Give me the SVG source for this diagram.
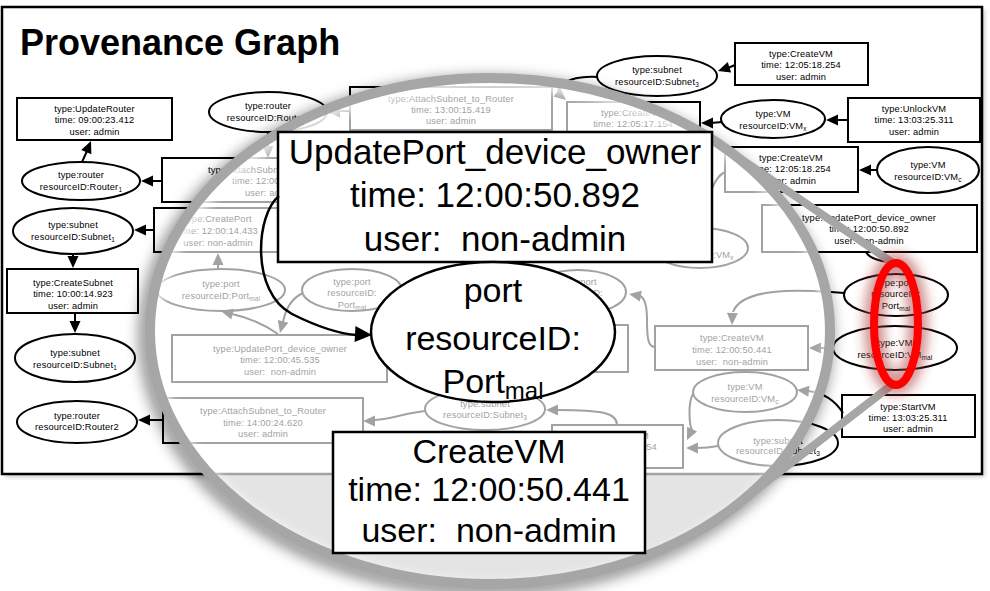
<svg xmlns="http://www.w3.org/2000/svg" width="990" height="591" viewBox="0 0 990 591">
<style>
  .box, .ell { fill: none; stroke: currentColor; stroke-width: 2; }
  .frame { fill: none; stroke: currentColor; stroke-width: 2.5; }
  .t { font-family: "Liberation Sans", Arial, sans-serif; font-size: 9.3px; letter-spacing: .15px; fill: currentColor; text-anchor: middle; }
  .ts { text-anchor: start; }
  .sub { font-size: 6.5px; }
  .edge { fill: none; stroke: currentColor; stroke-width: 2; }
  .head { fill: currentColor; stroke: none; }
  .big { fill: #fff; stroke: #000; stroke-width: 2.5; }
  .bt { font-family: "Liberation Sans", Arial, sans-serif; font-size: 34px; fill: #000; text-anchor: middle; }
  .title { font-family: "Liberation Sans", Arial, sans-serif; font-weight: bold; font-size: 36px; fill: #000; }
  .ring { fill: none; stroke: #a6a6a6; stroke-width: 10; }
  .beam { stroke: #a6a6a6; stroke-width: 8; stroke-linecap: round; }
</style>
<defs>
  <clipPath id="lensClip"><ellipse cx="490" cy="331" rx="340" ry="253"/></clipPath>
  <filter id="soft" x="-20%" y="-20%" width="140%" height="140%"><feGaussianBlur stdDeviation="7"/></filter>
  <filter id="haze" x="-20%" y="-20%" width="140%" height="140%"><feGaussianBlur stdDeviation="5"/></filter>
  <filter id="glow" x="-60%" y="-30%" width="220%" height="160%"><feGaussianBlur stdDeviation="6"/></filter>
  <filter id="fshadow" x="-5%" y="-5%" width="110%" height="110%"><feGaussianBlur stdDeviation="2"/></filter>
  <path id="ah" d="M0,0 L-12,-5.5 L-12,5.5 Z"/>
  <path id="bigah" d="M0,0 L-17,-8 L-17,8 Z"/>
</defs>

<rect width="990" height="591" fill="#fff"/>
<!-- soft shadow behind the frame -->
<rect x="5" y="10" width="980" height="467" fill="#9a9a9a" opacity="0.5" filter="url(#fshadow)"/>

<g color="#000">
<g id="scene">
  <rect class="frame" x="2" y="7" width="980" height="467" style="fill:#fff"/>

  <g id="connectors">
    <path class="edge" d="M82,162 L87,151"/><use href="#ah" class="head" transform="translate(91,141) rotate(-67)"/>
    <path class="edge" d="M162,181 L150,181"/><use href="#ah" class="head" transform="translate(141,181) rotate(180)"/>
    <path class="edge" d="M154,230 L143,230"/><use href="#ah" class="head" transform="translate(134,230) rotate(180)"/>
    <path class="edge" d="M73,254 L73,258"/><use href="#ah" class="head" transform="translate(73,268) rotate(90)"/>
    <path class="edge" d="M75,313 L75,323"/><use href="#ah" class="head" transform="translate(75,333) rotate(90)"/>
    <path class="edge" d="M163,420 L147,420"/><use href="#ah" class="head" transform="translate(138,420) rotate(180)"/>
    <path class="edge" d="M735,65 L728,68"/><use href="#ah" class="head" transform="translate(718,71) rotate(162)"/>
    <path class="edge" d="M848,120 L836,120"/><use href="#ah" class="head" transform="translate(826,120) rotate(180)"/>
    <path class="edge" d="M722,122 L711,123"/><use href="#ah" class="head" transform="translate(701,123) rotate(180)"/>
    <path class="edge" d="M877,170 L869,170"/><use href="#ah" class="head" transform="translate(859,170) rotate(180)"/>
    <path class="edge" d="M844,293 C795,289 742,288 733,312"/><use href="#ah" class="head" transform="translate(732,325) rotate(92)"/>
    <path class="edge" d="M833,348 L819,348"/><use href="#ah" class="head" transform="translate(809,348) rotate(180)"/>
    <path class="edge" d="M843,413 C836,402 826,393 808,391"/><use href="#ah" class="head" transform="translate(797,390) rotate(186)"/>
    <path class="edge" d="M718,446 C708,448 702,448 696,448"/><use href="#ah" class="head" transform="translate(686,448) rotate(180)"/>
    <path class="edge" d="M693,394 C688,402 689,424 692,430"/><use href="#ah" class="head" transform="translate(687,440) rotate(115)"/>
    <path class="edge" d="M617,425 C617,413 603,410 557,410"/><use href="#ah" class="head" transform="translate(546,410) rotate(180)"/>
    <path class="edge" d="M425,411 C405,413 392,419 375,420"/><use href="#ah" class="head" transform="translate(363,421) rotate(180)"/>
    <path class="edge" d="M218,269 L218,264"/><use href="#ah" class="head" transform="translate(218,253) rotate(-90)"/>
    <path class="edge" d="M278,334 C262,323 246,317 232,314"/><use href="#ah" class="head" transform="translate(221,311) rotate(195)"/>
    <path class="edge" d="M303,293 C292,298 286,307 283,322"/><use href="#ah" class="head" transform="translate(280,333) rotate(105)"/>
    <path class="edge" d="M655,347 C648,347 647,338 647,320 C647,305 645,298 640,296"/><use href="#ah" class="head" transform="translate(629,294) rotate(190)"/>
    <path class="edge" d="M268,132 L268,147"/><use href="#ah" class="head" transform="translate(268,158) rotate(90)"/>
    <path class="edge" d="M350,111 L339,111"/><use href="#ah" class="head" transform="translate(328,112) rotate(180)"/>
    <path class="edge" d="M598,77 C578,76 561,80 558,91"/><use href="#ah" class="head" transform="translate(566,100) rotate(40)"/>
    <path class="edge" d="M725,172 C712,178 707,200 705,226"/>
    <path class="edge" d="M866,252 C870,260 884,262 896,263"/>
  </g>

  <g id="nodes">
    <g id="n-updaterouter"><rect class="box" x="17" y="98" width="155" height="42"/>
      <text class="t" x="94.5" y="111.5">type:UpdateRouter</text><text class="t" x="94.5" y="123">time: 09:00:23.412</text><text class="t" x="94.5" y="134.5">user: admin</text></g>
    <g id="n-router1"><ellipse class="ell" cx="81" cy="181" rx="59" ry="19"/>
      <text class="t" x="81" y="178">type:router</text><text class="t" x="81" y="190">resourceID:Router<tspan class="sub" dy="2">1</tspan></text></g>
    <g id="n-subnet1a"><ellipse class="ell" cx="73" cy="231" rx="60" ry="23"/>
      <text class="t" x="73" y="227.5">type:subnet</text><text class="t" x="73" y="239.5">resourceID:Subnet<tspan class="sub" dy="2">1</tspan></text></g>
    <g id="n-createsubnet"><rect class="box" x="7" y="269" width="131" height="44"/>
      <text class="t" x="73" y="285.5">type:CreateSubnet</text><text class="t" x="73" y="297">time: 10:00:14.923</text><text class="t" x="73" y="308.5">user: admin</text></g>
    <g id="n-subnet1b"><ellipse class="ell" cx="75" cy="358" rx="60" ry="24"/>
      <text class="t" x="75" y="355.5">type:subnet</text><text class="t" x="75" y="367.5">resourceID:Subnet<tspan class="sub" dy="2">1</tspan></text></g>
    <g id="n-router2"><ellipse class="ell" cx="77" cy="422" rx="60" ry="21"/>
      <text class="t" x="77" y="418.5">type:router</text><text class="t" x="77" y="430">resourceID:Router2</text></g>
    <g id="n-routertop"><ellipse class="ell" cx="268" cy="112" rx="59" ry="20"/>
      <text class="t" x="268" y="108.5">type:router</text><text class="t" x="268" y="120.5">resourceID:Router<tspan class="sub" dy="2">1</tspan></text></g>
    <g id="n-attach12"><rect class="box" x="162" y="158" width="216" height="44"/>
      <text class="t ts" x="208" y="172.5">type:AttachSubn</text><text class="t ts" x="232" y="184">time: 12:00</text><text class="t ts" x="245" y="195.5">user: ad</text></g>
    <g id="n-createport"><rect class="box" x="154" y="208" width="128" height="44"/>
      <text class="t" x="218" y="221.5">type:CreatePort</text><text class="t" x="218" y="233.5">time: 12:00:14.433</text><text class="t" x="218" y="245.5">user: non-admin</text></g>
    <g id="n-portmal-a"><ellipse class="ell" cx="221" cy="290" rx="64" ry="21"/>
      <text class="t" x="221" y="287">type:port</text><text class="t" x="221" y="299">resourceID:Port<tspan class="sub" dy="2">mal</tspan></text></g>
    <g id="n-portmal-b"><ellipse class="ell" cx="352" cy="290" rx="50" ry="21"/>
      <text class="t" x="352" y="284.5">type:port</text><text class="t" x="352" y="296">resourceID:</text><text class="t" x="352" y="307.5">Port<tspan class="sub" dy="2">mal</tspan></text></g>
    <g id="n-updateport45"><rect class="box" x="172" y="335" width="215" height="47"/>
      <text class="t" x="280" y="351.5">type:UpdatePort_device_owner</text><text class="t" x="280" y="362.5">time: 12:00:45.535</text><text class="t" x="280" y="374.5" xml:space="preserve">user:  non-admin</text></g>
    <g id="n-attach14"><rect class="box" x="163" y="398" width="200" height="45"/>
      <text class="t" x="263" y="413.5">type:AttachSubnet_to_Router</text><text class="t" x="263" y="425.5">time: 14:00:24.620</text><text class="t" x="263" y="436.5">user: admin</text></g>
    <g id="n-attach13"><rect class="box" x="350" y="87" width="202" height="43"/>
      <text class="t" x="451" y="101.5">type:AttachSubnet_to_Router</text><text class="t" x="451" y="112.5">time: 13:00:15.419</text><text class="t" x="451" y="123.5">user: admin</text></g>
    <g id="n-createvm17"><rect class="box" x="567" y="102" width="133" height="44"/>
      <text class="t" x="633" y="115.5">type:CreateVM</text><text class="t" x="633" y="126.5">time: 12:05:17.154</text></g>
    <g id="n-subnet3top"><ellipse class="ell" cx="657" cy="76" rx="60" ry="20"/>
      <text class="t" x="657" y="72.5">type:subnet</text><text class="t" x="657" y="84.5">resourceID:Subnet<tspan class="sub" dy="2">3</tspan></text></g>
    <g id="n-createvm18a"><rect class="box" x="735" y="43" width="133" height="42"/>
      <text class="t" x="801" y="56.5">type:CreateVM</text><text class="t" x="801" y="68">time: 12:05:18.254</text><text class="t" x="801" y="79.5">user: admin</text></g>
    <g id="n-vmx"><ellipse class="ell" cx="773" cy="119" rx="52" ry="19"/>
      <text class="t" x="773" y="116.5">type:VM</text><text class="t" x="773" y="128.5">resourceID:VM<tspan class="sub" dy="2">x</tspan></text></g>
    <g id="n-unlockvm"><rect class="box" x="848" y="98" width="132" height="44"/>
      <text class="t" x="914" y="111.5">type:UnlockVM</text><text class="t" x="914" y="123">time: 13:03:25.311</text><text class="t" x="914" y="134.5">user: admin</text></g>
    <g id="n-createvm18b"><rect class="box" x="725" y="147" width="133" height="45"/>
      <text class="t" x="791" y="160.5">type:CreateVM</text><text class="t" x="791" y="172">time: 12:05:18.254</text><text class="t" x="791" y="183.5">user: admin</text></g>
    <g id="n-vmc"><ellipse class="ell" cx="928" cy="170" rx="51" ry="23"/>
      <text class="t" x="928" y="167.5">type:VM</text><text class="t" x="928" y="179.5">resourceID:VM<tspan class="sub" dy="2">c</tspan></text></g>
    <g id="n-vmx-b"><ellipse class="ell" cx="700" cy="248" rx="48" ry="20"/>
      <text class="t" x="700" y="258">resourceID:VM<tspan class="sub" dy="2">x</tspan></text></g>
    <g id="n-updateport892"><rect class="box" x="762" y="205" width="215" height="47"/>
      <text class="t" x="869" y="220.5">type:UpdatePort_device_owner</text><text class="t" x="869" y="232">time: 12:00:50.892</text><text class="t" x="869" y="243.5">user: non-admin</text></g>
    <g id="n-portmal-c"><ellipse class="ell" cx="896" cy="295" rx="52" ry="21"/>
      <text class="t" x="896" y="285.5">type:port</text><text class="t" x="896" y="297">resourceID:</text><text class="t" x="896" y="308.5">Port<tspan class="sub" dy="2">mal</tspan></text></g>
    <g id="n-vmmal"><ellipse class="ell" cx="895" cy="348" rx="62" ry="22"/>
      <text class="t" x="895" y="346">type:VM</text><text class="t" x="895" y="357.5">resourceID:VM<tspan class="sub" dy="2">mal</tspan></text></g>
    <g id="n-createvm441"><rect class="box" x="655" y="326" width="153" height="44"/>
      <text class="t" x="732" y="340.5">type:CreateVM</text><text class="t" x="732" y="352.5">time: 12:00:50.441</text><text class="t" x="732" y="364.5" xml:space="preserve">user:  non-admin</text></g>
    <g id="n-port3"><ellipse class="ell" cx="578" cy="292" rx="48" ry="22"/>
      <text class="t" x="578" y="284.5">type:port</text><text class="t" x="578" y="296">resourceID:</text><text class="t" x="578" y="307.5">Port<tspan class="sub" dy="2">mal</tspan></text></g>
    <g id="n-box-mid"><rect class="box" x="480" y="325" width="148" height="47"/></g>
    <g id="n-vmc-b"><ellipse class="ell" cx="745" cy="392" rx="52" ry="20"/>
      <text class="t" x="745" y="390">type:VM</text><text class="t" x="745" y="401.5">resourceID:VM<tspan class="sub" dy="2">c</tspan></text></g>
    <g id="n-subnet3b"><ellipse class="ell" cx="778" cy="443" rx="60" ry="23"/>
      <text class="t" x="778" y="443.5">type:subnet</text><text class="t" x="778" y="454">resourceID:Subnet<tspan class="sub" dy="2">3</tspan></text></g>
    <g id="n-startvm"><rect class="box" x="842" y="395" width="133" height="42"/>
      <text class="t" x="908" y="409.5">type:StartVM</text><text class="t" x="908" y="420.5">time: 13:03:25.311</text><text class="t" x="908" y="431.5">user: admin</text></g>
    <g id="n-createvm18c"><rect class="box" x="552" y="425" width="131" height="43"/>
      <text class="t" x="617" y="438.5">type:CreateVM</text><text class="t" x="617" y="450">time: 12:05:18.254</text><text class="t" x="617" y="461.5">user: admin</text></g>
    <g id="n-subnet3c"><ellipse class="ell" cx="485" cy="409" rx="60" ry="21"/>
      <text class="t" x="485" y="406.5">type:subnet</text><text class="t" x="485" y="418">resourceID:Subnet<tspan class="sub" dy="2">3</tspan></text></g>
  </g>
</g>
</g>

<text class="title" x="20" y="55">Provenance Graph</text>

<!-- magnifying lens -->
<g id="lens">
  <ellipse cx="486" cy="336" rx="340" ry="253" fill="none" stroke="#000" stroke-opacity="0.45" stroke-width="14" filter="url(#soft)"/>
  <g clip-path="url(#lensClip)">
    <rect x="140" y="70" width="700" height="530" fill="#e4e4e4"/>
    <use href="#scene" color="#a2a2a2"/>
    <ellipse cx="492" cy="335" rx="340" ry="253" fill="none" stroke="#fff" stroke-opacity="0.75" stroke-width="14" filter="url(#haze)"/>
  </g>
  <ellipse class="ring" cx="490" cy="331" rx="340" ry="253"/>
</g>

<!-- enlarged nodes shown through the lens -->
<g id="zoomed">
  <g id="z-updateport">
    <rect class="big" x="278" y="132" width="434" height="130"/>
    <text class="bt" x="495" y="164" style="font-size:35px">UpdatePort_device_owner</text>
    <text class="bt" x="495" y="207" style="font-size:35px">time: 12:00:50.892</text>
    <text class="bt" x="495" y="251" style="font-size:35px" xml:space="preserve">user:  non-admin</text>
  </g>
  <g id="z-port">
    <ellipse class="big" cx="493" cy="332" rx="122" ry="70"/>
    <text class="bt" x="493" y="302">port</text>
    <text class="bt" x="493" y="350">resourceID:</text>
    <text class="bt" x="493" y="393">Port<tspan dy="6" style="font-size:24px">mal</tspan></text>
  </g>
  <g id="z-createvm">
    <rect class="big" x="333" y="432" width="312" height="121"/>
    <text class="bt" x="489" y="463">CreateVM</text>
    <text class="bt" x="489" y="501">time: 12:00:50.441</text>
    <text class="bt" x="489" y="542" xml:space="preserve">user:  non-admin</text>
  </g>
  <g id="z-edge">
    <path d="M279,196 C256,214 250,292 292,314 C318,327 342,334 357,335" fill="none" stroke="#000" stroke-width="2.5"/>
    <use href="#bigah" fill="#000" transform="translate(372,335) rotate(3)"/>
  </g>
</g>

<!-- callout from the lens to the highlighted pair -->
<g id="callout">
  <line class="beam" x1="893" y1="263" x2="719" y2="144"/>
  <line class="beam" x1="893" y1="384" x2="734" y2="507"/>
  <ellipse cx="896" cy="324" rx="22" ry="61" fill="none" stroke="#a33" stroke-opacity="0.55" stroke-width="20" filter="url(#glow)"/>
  <ellipse cx="896" cy="324" rx="22" ry="61" fill="none" stroke="#f00" stroke-width="8"/>
</g>
</svg>
